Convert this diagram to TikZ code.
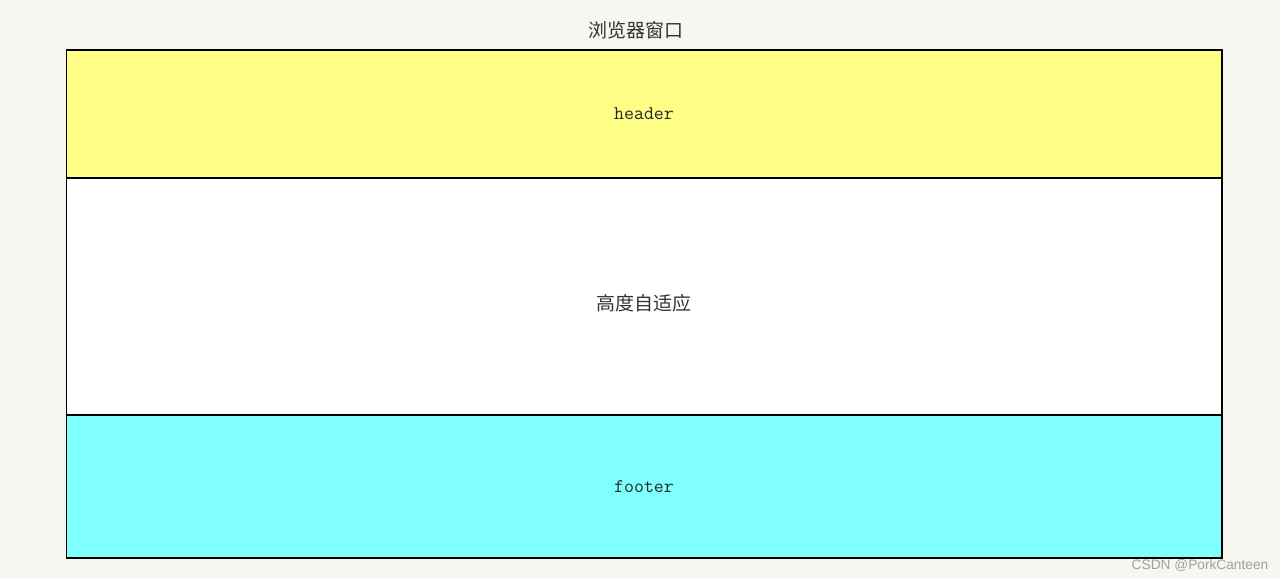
\documentclass[tikz,border=0pt]{standalone}
\usepackage{fontspec}
\newfontfamily\cjk{Noto Sans CJK SC}
\newfontfamily\marksans{Liberation Sans}
\usetikzlibrary{positioning}
\definecolor{pagebg}{HTML}{F8F6F1}
\definecolor{headyellow}{HTML}{FFFF88}
\definecolor{footcyan}{HTML}{80FFFF}
\definecolor{markgray}{HTML}{A0A0A0}
\tikzset{
  band/.style={rectangle, draw=black, line width=0.7pt, minimum width=23.12cm, inner sep=0pt, outer sep=0pt, anchor=north},
  bandtext/.style={font=\ttfamily\fontsize{11}{13}\selectfont, text=black!85},
  cjktext/.style={font=\cjk\fontsize{10.8}{13}\selectfont, text=black!80}
}
\begin{document}
\begin{tikzpicture}[x=0.02cm, y=-0.02cm]
  % Page
  \fill[pagebg] (0,0) rectangle (1280,578);
  \useasboundingbox (0,0) rectangle (1280,578);

  % Bands
  \node[band, fill=headyellow, minimum height=2.56cm] (header) at (644,50) {};
  \node[band, fill=white, minimum height=4.74cm, below=0pt of header] (body) {};
  \node[band, fill=footcyan, minimum height=2.86cm, below=0pt of body] (footer) {};

  % Labels
  \node[cjktext] (title) at (636,30) {浏览器窗口};
  \node[bandtext] (headlabel) at (header.center) {header};
  \node[cjktext, yshift=-0.13cm] (bodylabel) at (body.center) {高度自适应};
  \node[bandtext] (footlabel) at (footer.center) {footer};
  \node[font=\marksans\fontsize{7.8}{9}\selectfont, text=markgray] (mark) at (1200,565) {CSDN @PorkCanteen};
\end{tikzpicture}
\end{document}
